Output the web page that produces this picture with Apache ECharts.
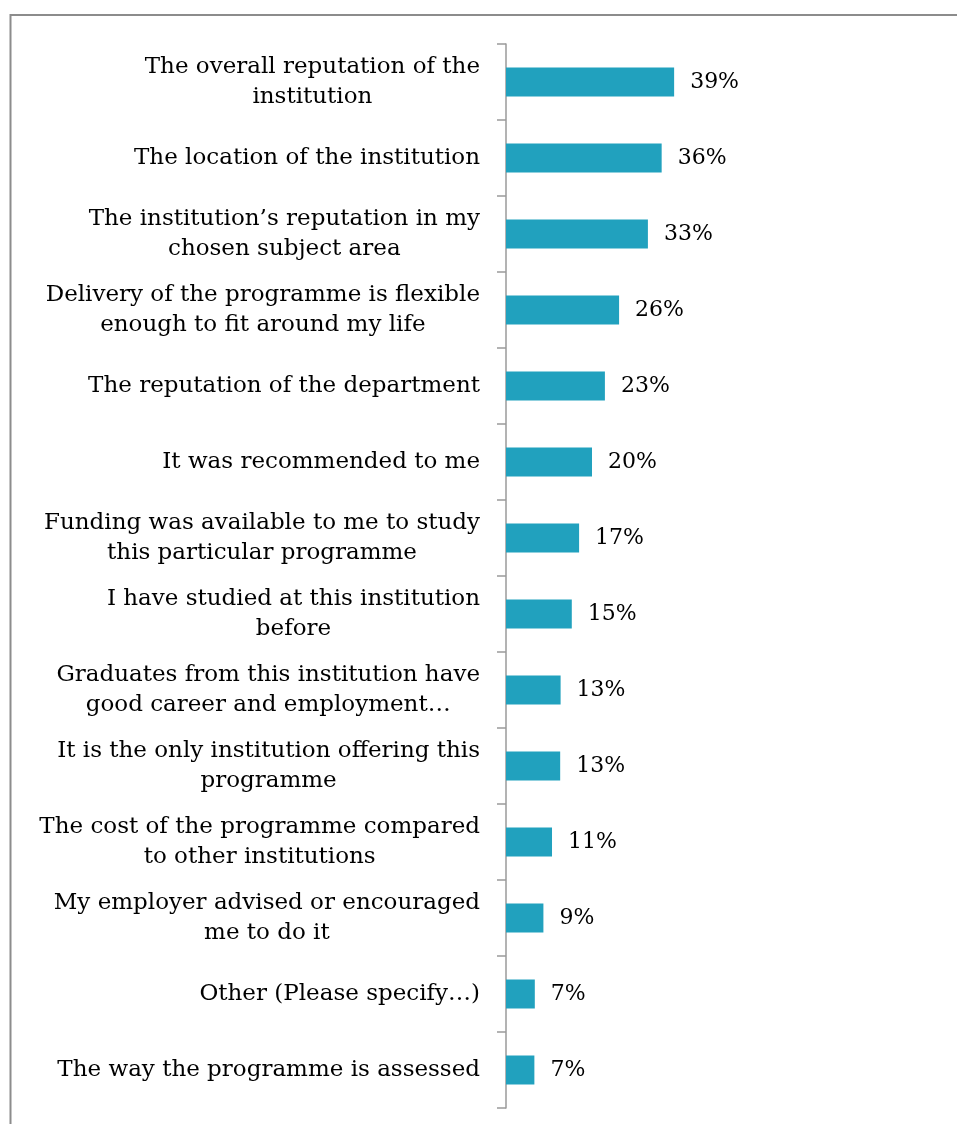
<!DOCTYPE html>
<html>
<head>
<meta charset="utf-8">
<script src="https://cdn.jsdelivr.net/npm/echarts@6/dist/echarts.min.js"></script>
<style>
html,body{margin:0;padding:0;background:#fff;}
#chart{width:957px;height:1124px;}
</style>
</head>
<body>
<div id="chart"></div>
<script>
const categories = [
  "The overall reputation of the\ninstitution",
  "The location of the institution",
  "The institution\u2019s reputation in my\nchosen subject area",
  "Delivery of the programme is flexible\nenough to fit around my life",
  "The reputation of the department",
  "It was recommended to me",
  "Funding was available to me to study\nthis particular programme",
  "I have studied at this institution\nbefore",
  "Graduates from this institution have\ngood career and employment\u2026",
  "It is the only institution offering this\nprogramme",
  "The cost of the programme compared\nto other institutions",
  "My employer advised or encouraged\nme to do it",
  "Other (Please specify\u2026)",
  "The way the programme is assessed"
];
const values = [39.1, 36.2, 33.0, 26.3, 23.0, 20.0, 17.0, 15.3, 12.7, 12.6, 10.7, 8.7, 6.7, 6.6];

const chart = echarts.init(document.getElementById('chart'), null, {renderer: 'canvas'});
const FONT = "'DejaVu Serif', serif";
chart.setOption({
  backgroundColor: '#ffffff',
  animation: false,
  graphic: [{
    type: 'rect',
    shape: {x: 10.5, y: 15, width: 980, height: 1140},
    style: {fill: 'none', stroke: '#8c8c8c', lineWidth: 2},
    silent: true
  }],
  grid: {left: 506, top: 44, width: 430, height: 1064, containLabel: false},
  xAxis: {type: 'value', min: 0, max: 100, show: false},
  yAxis: {
    type: 'category',
    data: categories,
    inverse: true,
    axisLine: {show: true, lineStyle: {color: '#9a9a9a', width: 1.5}},
    axisTick: {show: true, length: 9, lineStyle: {color: '#9a9a9a', width: 1.5}},
    axisLabel: {
      margin: 26,
      color: '#000',
      fontFamily: FONT,
      fontSize: 23,
      lineHeight: 30,
      formatter: function (v) {
        return v.split('\n').map(function (s) { return '{c|' + s + '}'; }).join('\n');
      },
      rich: {c: {align: 'center', fontFamily: FONT, fontSize: 23, lineHeight: 30, color: '#000'}}
    }
  },
  series: [{
    type: 'bar',
    data: values,
    barWidth: 29,
    itemStyle: {color: '#21a1be'},
    label: {
      show: true,
      position: 'right',
      distance: 16,
      fontFamily: FONT,
      fontSize: 22,
      color: '#000',
      formatter: function (p) { return Math.round(p.value) + '%'; }
    }
  }]
});
</script>
</body>
</html>
